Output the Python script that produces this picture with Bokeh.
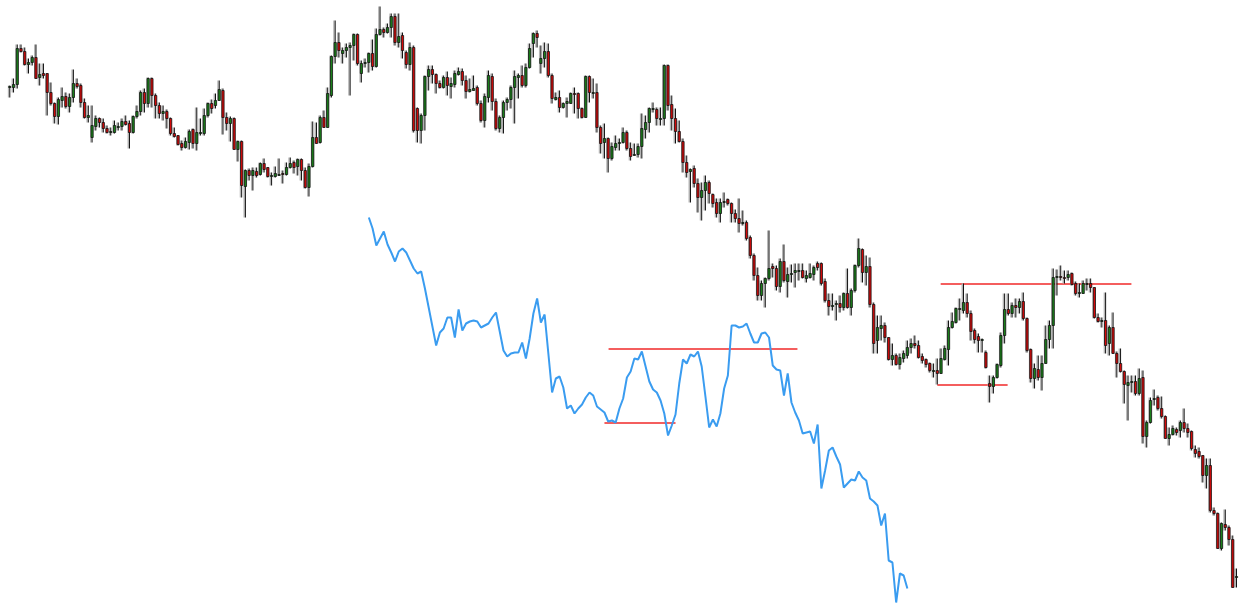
import numpy as np
from bokeh.plotting import figure
from bokeh.models import Range1d, ColumnDataSource
from bokeh.embed import file_html
from bokeh.resources import INLINE

open_ = [
    513, 513, 516, 552, 549, 536, 538, 543, 523, 527,
    527, 508, 497, 484, 500, 504, 494, 503, 517, 515,
    498, 483, 463, 474, 482, 478, 472, 468, 468, 473,
    474, 479, 477, 468, 484, 489, 508, 497, 522, 505,
    495, 487, 489, 482, 467, 465, 457, 453, 458, 471,
    457, 467, 467, 485, 497, 495, 500, 510, 483, 477,
    482, 451, 459, 414, 430, 425, 429, 426, 437, 433,
    424, 424, 425, 427, 426, 433, 438, 434, 441, 430,
    413, 434, 463, 458, 483, 473, 505, 544, 558, 547,
    550, 553, 555, 566, 527, 537, 538, 547, 534, 566,
    571, 568, 573, 584, 558, 565, 548, 536, 553, 492,
    470, 485, 524, 531, 526, 517, 513, 523, 514, 516,
    526, 529, 520, 509, 510, 513, 497, 480, 503, 524,
    499, 472, 483, 498, 501, 513, 523, 525, 515, 533,
    557, 567, 537, 542, 549, 525, 501, 503, 493, 497,
    497, 507, 507, 492, 483, 524, 507, 508, 473, 458,
    462, 442, 453, 457, 458, 468, 452, 445, 446, 454,
    471, 478, 491, 491, 481, 482, 535, 496, 482, 469,
    459, 438, 429, 432, 417, 403, 410, 418, 406, 398,
    387, 398, 401, 397, 387, 382, 377, 378, 363, 345,
    325, 305, 317, 322, 334, 332, 314, 339, 319, 326,
    328, 329, 330, 322, 323, 326, 337, 337, 319, 300,
    294, 296, 297, 293, 307, 293, 310, 335, 351, 328,
    334, 296, 260, 272, 275, 263, 241, 245, 236, 242,
    245, 253, 257, 255, 244, 241, 237, 229, 230, 227,
    241, 251, 273, 278, 291, 290, 298, 287, 270, 264,
    260, 248, 217, 214, 223, 235, 265, 291, 287, 295,
    293, 299, 282, 251, 222, 231, 223, 237, 261, 275,
    323, 324, 323, 323, 327, 317, 307, 307, 316, 317,
    313, 283, 279, 280, 257, 273, 247, 237, 229, 215,
    218, 219, 207, 223, 164, 178, 201, 203, 192, 184,
    162, 166, 171, 170, 178, 172, 169, 151, 149, 145,
    125, 135, 90, 87, 52, 76, 73, 61, 23,
]

high = [
    515, 522, 556, 556, 553, 542, 545, 556, 537, 537,
    527, 518, 498, 503, 513, 508, 507, 531, 522, 517,
    502, 495, 495, 485, 483, 482, 475, 473, 480, 478,
    482, 485, 480, 485, 495, 510, 512, 523, 523, 507,
    498, 495, 491, 483, 473, 465, 460, 463, 471, 472,
    493, 482, 492, 498, 501, 507, 520, 512, 488, 484,
    483, 460, 460, 431, 432, 433, 433, 438, 442, 433,
    428, 434, 442, 430, 438, 443, 440, 442, 442, 433,
    437, 479, 478, 485, 490, 513, 545, 580, 568, 553,
    557, 558, 567, 567, 540, 542, 548, 561, 572, 594,
    573, 577, 587, 587, 587, 568, 550, 558, 555, 493,
    487, 525, 535, 535, 527, 520, 525, 529, 523, 530,
    533, 532, 525, 522, 525, 515, 500, 507, 530, 527,
    502, 485, 500, 503, 515, 530, 527, 535, 537, 557,
    568, 570, 555, 558, 557, 527, 508, 510, 498, 503,
    508, 513, 508, 493, 525, 525, 522, 517, 475, 477,
    463, 458, 465, 462, 473, 470, 458, 457, 457, 487,
    485, 493, 498, 493, 493, 536, 536, 505, 492, 480,
    462, 445, 432, 435, 422, 418, 425, 420, 407, 402,
    402, 408, 402, 398, 391, 402, 390, 380, 365, 347,
    333, 320, 323, 370, 337, 335, 342, 356, 333, 336,
    337, 337, 337, 330, 337, 335, 339, 338, 322, 307,
    307, 300, 305, 308, 332, 312, 336, 362, 352, 345,
    343, 298, 285, 285, 278, 263, 257, 247, 247, 250,
    260, 262, 265, 260, 247, 242, 238, 237, 242, 252,
    255, 280, 288, 293, 302, 317, 307, 290, 272, 267,
    262, 250, 225, 225, 237, 268, 307, 307, 298, 302,
    302, 308, 283, 252, 237, 245, 245, 275, 280, 332,
    331, 335, 330, 330, 328, 319, 317, 320, 322, 322,
    313, 287, 283, 308, 275, 288, 249, 252, 230, 225,
    225, 225, 232, 230, 180, 203, 211, 205, 204, 185,
    173, 175, 173, 180, 192, 177, 170, 155, 153, 145,
    142, 142, 93, 88, 78, 91, 75, 65, 32,
]

low = [
    503, 508, 512, 548, 535, 527, 535, 522, 515, 522,
    485, 495, 477, 476, 493, 492, 488, 498, 512, 493,
    482, 478, 458, 470, 473, 468, 467, 465, 467, 470,
    470, 475, 452, 467, 482, 485, 488, 493, 493, 482,
    482, 480, 472, 465, 463, 455, 450, 452, 451, 452,
    450, 465, 465, 483, 487, 492, 500, 466, 470, 459,
    451, 439, 403, 383, 420, 410, 423, 425, 428, 423,
    415, 423, 425, 417, 425, 432, 427, 425, 420, 412,
    404, 433, 457, 457, 473, 473, 503, 537, 543, 537,
    543, 505, 540, 535, 518, 533, 528, 530, 533, 565,
    563, 567, 563, 555, 553, 542, 532, 530, 468, 458,
    457, 470, 510, 517, 507, 512, 512, 505, 502, 513,
    525, 515, 502, 508, 510, 495, 478, 473, 498, 490,
    470, 468, 467, 490, 492, 477, 502, 513, 513, 532,
    543, 553, 527, 533, 523, 497, 500, 488, 492, 483,
    497, 487, 482, 482, 483, 498, 502, 468, 447, 442,
    428, 440, 450, 450, 457, 450, 440, 445, 443, 442,
    462, 468, 488, 475, 475, 475, 490, 470, 457, 458,
    428, 423, 398, 413, 388, 380, 390, 397, 393, 383,
    378, 393, 395, 378, 378, 368, 375, 360, 342, 320,
    300, 300, 293, 320, 323, 310, 308, 318, 303, 318,
    313, 320, 322, 318, 322, 320, 330, 315, 298, 285,
    290, 280, 288, 290, 292, 285, 308, 333, 318, 315,
    293, 247, 247, 260, 258, 240, 235, 235, 231, 238,
    242, 247, 252, 242, 237, 233, 228, 223, 216, 227,
    240, 235, 272, 277, 280, 287, 283, 260, 257, 248,
    248, 232, 198, 207, 222, 233, 257, 285, 283, 283,
    287, 280, 248, 218, 212, 220, 210, 237, 252, 252,
    305, 320, 317, 320, 315, 305, 303, 307, 310, 308,
    282, 278, 273, 247, 245, 247, 223, 228, 197, 180,
    208, 205, 205, 157, 153, 177, 195, 190, 182, 162,
    155, 165, 165, 163, 168, 163, 150, 143, 142, 118,
    112, 88, 85, 52, 50, 70, 55, 13, 13,
]

close_ = [
    514, 516, 552, 549, 536, 538, 543, 522, 526, 525,
    508, 497, 484, 501, 504, 494, 503, 517, 514, 498,
    483, 485, 475, 482, 478, 472, 468, 469, 475, 474,
    479, 476, 468, 484, 489, 508, 497, 522, 505, 495,
    487, 489, 482, 467, 464, 456, 453, 459, 469, 457,
    468, 468, 485, 497, 492, 500, 511, 483, 477, 482,
    451, 459, 415, 430, 425, 430, 425, 437, 431, 424,
    425, 427, 426, 426, 433, 437, 433, 441, 430, 413,
    434, 463, 457, 483, 473, 507, 544, 558, 550, 550,
    553, 555, 566, 537, 537, 538, 547, 534, 566, 571,
    568, 573, 584, 558, 564, 550, 536, 553, 470, 470,
    485, 524, 531, 526, 517, 513, 523, 515, 517, 527,
    529, 520, 509, 511, 512, 497, 480, 504, 525, 499,
    472, 483, 498, 501, 513, 524, 525, 515, 533, 552,
    567, 563, 542, 549, 525, 502, 503, 493, 497, 499,
    507, 506, 492, 483, 524, 508, 508, 473, 457, 462,
    442, 454, 457, 458, 468, 452, 444, 446, 454, 472,
    478, 492, 492, 482, 482, 535, 495, 482, 469, 459,
    438, 428, 431, 417, 403, 410, 418, 407, 397, 387,
    398, 399, 397, 387, 382, 377, 378, 362, 345, 325,
    305, 317, 322, 332, 332, 314, 339, 320, 326, 327,
    330, 330, 323, 325, 327, 333, 333, 317, 300, 294,
    295, 297, 293, 307, 293, 310, 335, 352, 328, 334,
    296, 257, 273, 275, 263, 241, 245, 236, 243, 247,
    253, 257, 255, 243, 240, 236, 230, 230, 227, 242,
    252, 273, 279, 292, 292, 298, 287, 269, 261, 260,
    261, 233, 214, 223, 236, 265, 291, 287, 295, 293,
    299, 282, 250, 222, 232, 223, 237, 261, 275, 323,
    324, 323, 322, 326, 316, 307, 308, 317, 317, 313,
    283, 279, 280, 255, 273, 247, 237, 229, 216, 218,
    219, 207, 222, 164, 178, 200, 202, 192, 184, 162,
    166, 172, 168, 178, 172, 168, 152, 147, 144, 125,
    135, 90, 87, 52, 77, 73, 61, 13, 24,
]

# second series (blue line), starting at bar index 96
line_start = 96
line_values = [
    383, 372, 355, 362, 369, 356, 348, 339, 349, 352,
    348, 340, 332, 327, 329, 312, 293, 274, 255, 268,
    272, 283, 283, 263, 291, 270, 277, 279, 280, 279,
    273, 275, 277, 283, 288, 269, 250, 244, 247, 248,
    248, 258, 242, 262, 287, 302, 278, 286, 247, 208,
    222, 224, 213, 192, 195, 187, 192, 196, 203, 208,
    205, 194, 191, 188, 179, 180, 178, 192, 202, 223,
    229, 242, 241, 249, 234, 219, 211, 208, 200, 187,
    165, 175, 186, 217, 241, 237, 246, 244, 249, 234,
    204, 173, 181, 174, 187, 212, 225, 275, 275, 273,
    274, 277, 267, 258, 258, 267, 268, 263, 235, 231,
    230, 205, 227, 198, 188, 180, 167, 168, 169, 157,
    176, 112, 130, 150, 153, 144, 136, 113, 117, 121,
    120, 129, 123, 120, 102, 99, 95, 75, 87, 40,
    38, -2, 27, 25, 12,
]

# horizontal levels: price, start bar, end bar
level_price = [316.5, 215.5, 251.5, 177.5]
level_start = [248.9, 248.0, 160.1, 159.0]
level_end = [299.9, 266.8, 210.6, 178.0]

o = np.array(open_, dtype=float)
c = np.array(close_, dtype=float)
n = len(o)
idx = np.arange(n)
colors = np.where(c >= o, "#1a7f1a", "#d20a0a")
src = ColumnDataSource(dict(
    x=idx, xs=idx - 0.32,
    top=np.maximum(o, c), bottom=np.minimum(o, c),
    high=np.array(high, dtype=float), low=np.array(low, dtype=float),
    color=colors,
))

p = figure(width=1239, height=605,
           x_range=Range1d(-2.487, 328.8), y_range=Range1d(-5, 600),
           x_axis_type=None, y_axis_type=None,
           output_backend="svg", toolbar_location=None, min_border=0)
p.grid.visible = False
p.outline_line_color = None
p.background_fill_color = "white"
p.border_fill_color = "white"

p.segment(x0=level_start, y0=level_price, x1=level_end, y1=level_price,
          line_color="#f02828", line_width=1.3)

p.segment(x0="xs", y0="high", x1="xs", y1="low", source=src,
          line_color="#b4b4b4", line_width=1.5)
p.segment(x0="x", y0="high", x1="x", y1="low", source=src,
          line_color="#111111", line_width=1)
p.vbar(x="x", top="top", bottom="bottom", width=0.6, source=src,
       fill_color="color", line_color="#111111", line_width=0.8)

lx = line_start + np.arange(len(line_values))
p.line(lx, line_values, line_color="#3a9cf0", line_width=2)

open("out.html", "w").write(file_html(p, INLINE))
